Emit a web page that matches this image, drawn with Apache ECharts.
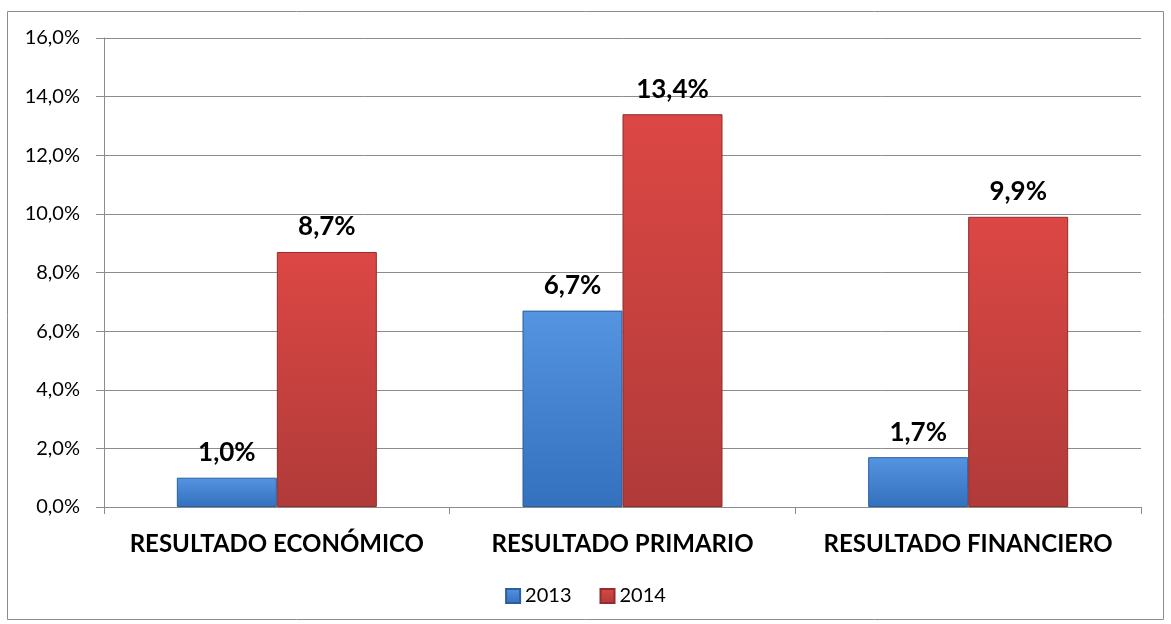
<!DOCTYPE html>
<html>
<head>
<meta charset="utf-8">
<script src="https://cdn.jsdelivr.net/npm/echarts@6/dist/echarts.min.js"></script>
<style>
  html, body { margin: 0; padding: 0; background: #fff; }
  #chart { width: 1171px; height: 624px; }
</style>
</head>
<body>
<div id="chart"></div>
<script>
// datos del gráfico
var categorias = ['RESULTADO ECONÓMICO', 'RESULTADO PRIMARIO', 'RESULTADO FINANCIERO'];
var valores2013 = [1.0, 6.7, 1.7];
var valores2014 = [8.7, 13.4, 9.9];
var anios = ['2013', '2014'];

var fuente = 'Lato, "Open Sans", sans-serif';

function pct(v) {
  return v.toFixed(1).replace('.', ',') + '%';
}

var myChart = echarts.init(document.getElementById('chart'));
var option = {
  animation: false,
  textStyle: { fontFamily: fuente },
  graphic: [{
    type: 'rect',
    shape: { x: 7.5, y: 11.5, width: 1156, height: 608 },
    style: { fill: 'none', stroke: '#8c8c8c', lineWidth: 1 },
    silent: true
  }],
  grid: { left: 104, right: 30, top: 38, bottom: 117 },
  legend: {
    bottom: 13,
    left: 'center',
    itemWidth: 14,
    itemHeight: 14,
    itemGap: 28,
    itemTextGap: 6,
    icon: 'rect',
    textStyle: { fontSize: 20, color: '#000', fontFamily: fuente },
    data: anios
  },
  xAxis: {
    type: 'category',
    data: categorias,
    axisLine: { lineStyle: { color: '#8c8c8c' } },
    axisTick: { show: true, interval: 0, length: 7, lineStyle: { color: '#8c8c8c' } },
    axisLabel: { interval: 0, hideOverlap: false, fontSize: 24, fontWeight: 'bold', color: '#000', margin: 25, fontFamily: fuente }
  },
  yAxis: {
    type: 'value',
    min: 0,
    max: 16,
    interval: 2,
    axisLine: { show: true, lineStyle: { color: '#8c8c8c' } },
    axisTick: { show: true, length: 8, lineStyle: { color: '#8c8c8c' } },
    splitLine: { lineStyle: { color: '#8c8c8c' } },
    axisLabel: { fontSize: 20, color: '#000', margin: 24, fontFamily: fuente, formatter: pct }
  },
  series: [
    {
      name: anios[0],
      type: 'bar',
      data: valores2013,
      barWidth: 100,
      barGap: '0%',
      itemStyle: {
        color: new echarts.graphic.LinearGradient(0, 0, 0, 1, [
          { offset: 0, color: '#5594e0' },
          { offset: 1, color: '#3370bd' }
        ]),
        borderColor: '#2a5f9e',
        borderWidth: 1
      },
      label: {
        show: true, position: 'top', distance: 12, formatter: function (p) { return pct(p.value); },
        fontSize: 26, fontWeight: 'bold', color: '#000', fontFamily: fuente
      }
    },
    {
      name: anios[1],
      type: 'bar',
      data: valores2014,
      barWidth: 100,
      itemStyle: {
        color: new echarts.graphic.LinearGradient(0, 0, 0, 1, [
          { offset: 0, color: '#dc4744' },
          { offset: 1, color: '#b03b39' }
        ]),
        borderColor: '#8e2f2d',
        borderWidth: 1
      },
      label: {
        show: true, position: 'top', distance: 12, formatter: function (p) { return pct(p.value); },
        fontSize: 26, fontWeight: 'bold', color: '#000', fontFamily: fuente
      }
    }
  ]
};
myChart.setOption(option);
window.onresize = myChart.resize;
</script>
</body>
</html>
